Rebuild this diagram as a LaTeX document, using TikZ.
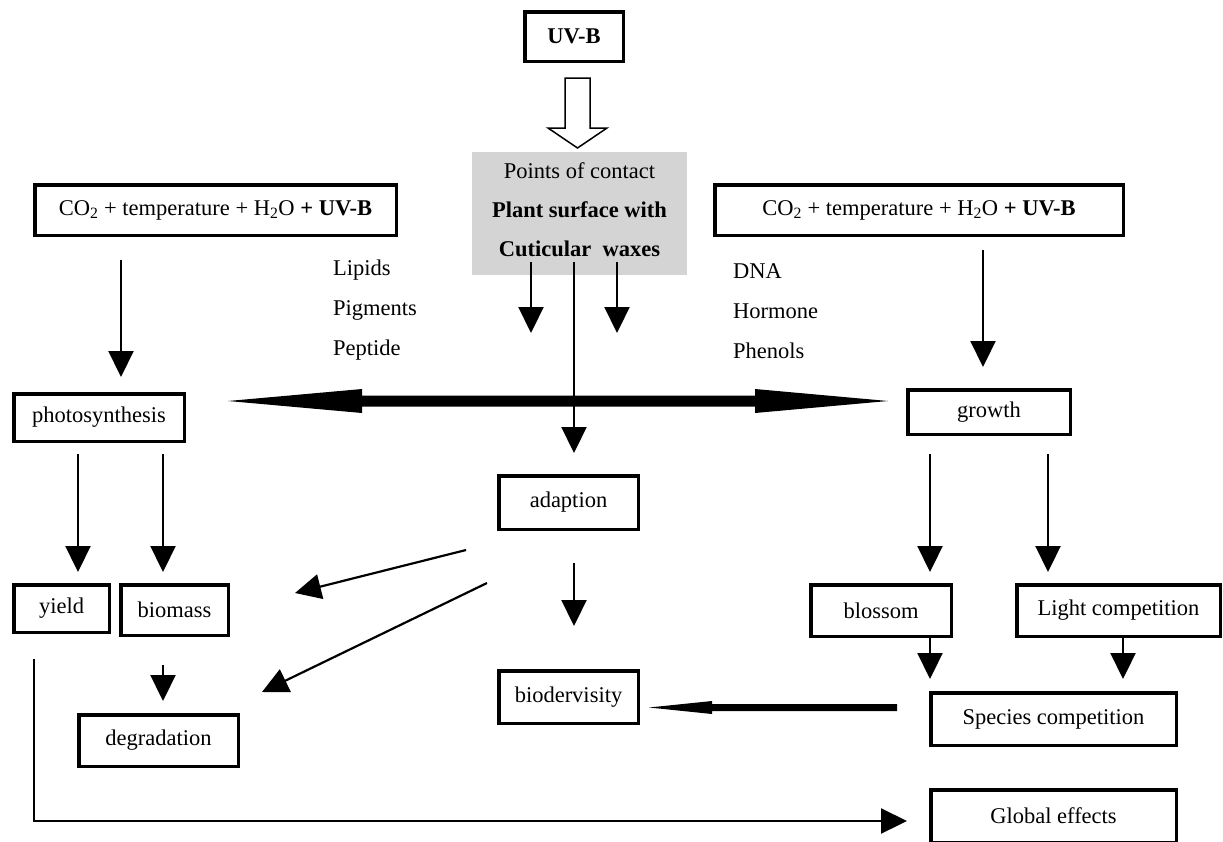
\documentclass[tikz,border=0pt]{standalone}
\usepackage{fontspec}
\setmainfont{Liberation Serif}
\usetikzlibrary{arrows.meta,calc}
\begin{document}
\begin{tikzpicture}[x=1pt,y=-1pt,
  txt/.style={font=\fontsize{22.5}{40}\selectfont},
  box/.style={txt, draw, line width=3.5pt, inner sep=0pt, align=center},
  lbl/.style={txt, inner sep=0pt, align=left, anchor=west},
  arr/.style={line width=2.2pt, -{Triangle[length=26pt,width=25pt]}},
  solidarrow/.style={fill=black},
  hollow/.style={draw, line width=1.5pt, fill=white, line join=miter}
]
\path[use as bounding box] (0,0) rectangle (1223,841);

% boxes
\node[box, minimum width=98.5pt, minimum height=49.5pt] (uvb) at (574,36.5) {\textbf{UV-B}};
\node[txt, fill=black!17, minimum width=215pt, minimum height=123pt, inner sep=0pt, align=center,
      text depth=7pt, font=\fontsize{22.5}{39}\selectfont] (contact) at (579.5,213.5)
      {Points of contact\\\textbf{Plant surface with}\\\textbf{Cuticular\ \ waxes}};
\node[box, minimum width=361.5pt, minimum height=50.5pt] (co2L) at (215.5,210)
      {CO\textsubscript{2} + temperature + H\textsubscript{2}O \textbf{+ UV-B}};
\node[box, minimum width=408.5pt, minimum height=50.5pt] (co2R) at (919,210)
      {CO\textsubscript{2} + temperature + H\textsubscript{2}O \textbf{+ UV-B}};
\node[box, minimum width=170.5pt, minimum height=47.5pt] (photo) at (99,417.5) {photosynthesis};
\node[box, minimum width=162.5pt, minimum height=44.5pt] (growth) at (989,412) {growth};
\node[box, minimum width=139.5pt, minimum height=53.5pt] (adapt) at (568.5,502.5) {adaption};
\node[box, minimum width=95.5pt, minimum height=47.5pt] (yield) at (61.5,608.5) {yield};
\node[box, minimum width=107.5pt, minimum height=50.5pt] (biomass) at (174.5,610) {biomass};
\node[box, minimum width=159.5pt, minimum height=51.5pt] (degr) at (158.5,740.5) {degradation};
\node[box, minimum width=139.5pt, minimum height=52.5pt] (biodiv) at (568.5,697) {biodervisity};
\node[box, minimum width=140.5pt, minimum height=51.5pt] (blossom) at (881,610.5) {blossom};
\node[box, minimum width=203.5pt, minimum height=51.5pt] (light) at (1118.5,610.5) {Light competition};
\node[box, minimum width=245.5pt, minimum height=52.5pt] (species) at (1053.5,719) {Species competition};
\node[box, minimum width=245.5pt, minimum height=52.5pt] (global) at (1053.5,816) {Global effects};

% side labels
\node[lbl] (lipids) at (333,310) {Lipids\\Pigments\\Peptide};
\node[lbl] (dna) at (733,311) {DNA\\Hormone\\Phenols};

% hollow arrow UV-B -> contact
\draw[hollow] (565,78) -- (590,78) -- (590,128) -- (607,128) -- (577.5,148) -- (548,128) -- (565,128) -- cycle;

% arrow end coordinates
\coordinate (a1s) at (121,260);  \coordinate (a1e) at (121,377);
\coordinate (a2s) at (983,250);  \coordinate (a2e) at (983,367);
\coordinate (c1s) at (531,262);  \coordinate (c1e) at (531,333);
\coordinate (c2s) at (617,262);  \coordinate (c2e) at (617,333);
\coordinate (c3s) at (574,262);  \coordinate (c3e) at (574,453);
\coordinate (dl) at (228,401);   \coordinate (dr) at (888,401);
\coordinate (p1s) at (78,454);   \coordinate (p1e) at (78,572);
\coordinate (p2s) at (163,454);  \coordinate (p2e) at (163,572);
\coordinate (bds) at (163,665);  \coordinate (bde) at (163,701);
\coordinate (ab1s) at (466,550); \coordinate (ab1e) at (295,593);
\coordinate (ab2s) at (487,583); \coordinate (ab2e) at (262,692);
\coordinate (adbs) at (574,563); \coordinate (adbe) at (574,626);
\coordinate (g1s) at (930,454);  \coordinate (g1e) at (930,572);
\coordinate (g2s) at (1048,454); \coordinate (g2e) at (1048,572);
\coordinate (bss) at (930,638);  \coordinate (bse) at (930,679);
\coordinate (lss) at (1123,638); \coordinate (lse) at (1123,679);
\coordinate (sbs) at (897,707.5); \coordinate (sbe) at (649,707.5);
\coordinate (ys) at (34,659);    \coordinate (yc) at (34,821); \coordinate (ye) at (907,821);

% connectors
\draw[arr] (a1s) -- (a1e);
\draw[arr] (a2s) -- (a2e);
\draw[arr] (c1s) -- (c1e);
\draw[arr] (c2s) -- (c2e);
\draw[arr] (c3s) -- (c3e);
% thick double arrow photosynthesis <-> growth
\fill[solidarrow] (dl) -- ($(dl)+(134,-12)$) -- ($(dl)+(134,-5.5)$) -- ($(dr)+(-133,-5.5)$)
   -- ($(dr)+(-133,-12)$) -- (dr) -- ($(dr)+(-133,12)$) -- ($(dr)+(-133,5.5)$)
   -- ($(dl)+(134,5.5)$) -- ($(dl)+(134,12)$) -- cycle;
\draw[arr] (p1s) -- (p1e);
\draw[arr] (p2s) -- (p2e);
\draw[arr] (bds) -- (bde);
\draw[arr] (ab1s) -- (ab1e);
\draw[arr] (ab2s) -- (ab2e);
\draw[arr] (adbs) -- (adbe);
\draw[arr] (g1s) -- (g1e);
\draw[arr] (g2s) -- (g2e);
\draw[arr] (bss) -- (bse);
\draw[arr] (lss) -- (lse);
% thick arrow species competition -> biodervisity
\fill[solidarrow] (sbe) -- ($(sbe)+(63,-6.5)$) -- ($(sbe)+(63,-3.5)$) -- ($(sbs)+(0,-3.5)$)
   -- ($(sbs)+(0,3.5)$) -- ($(sbe)+(63,3.5)$) -- ($(sbe)+(63,6.5)$) -- cycle;
\draw[arr] (ys) -- (yc) -- (ye);
\end{tikzpicture}
\end{document}
